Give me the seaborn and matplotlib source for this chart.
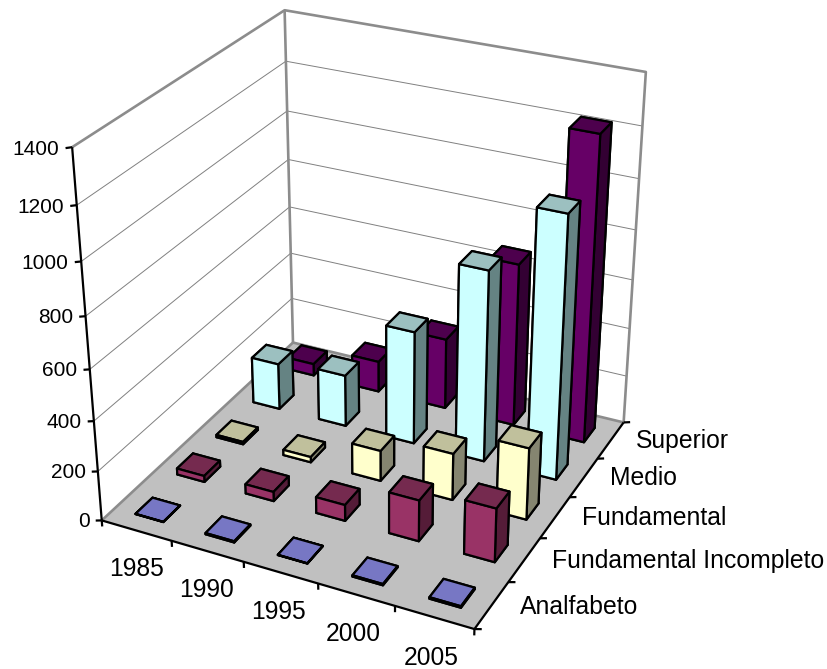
"""
3D bars by education level, Excel style
"""
import numpy as np
import matplotlib
matplotlib.use("Agg")
import matplotlib.pyplot as plt
from mpl_toolkits.mplot3d.art3d import Line3DCollection
import seaborn as sns

years = ["1985", "1990", "1995", "2000", "2005"]
levels = ["Analfabeto", "Fundamental Incompleto", "Fundamental", "Medio", "Superior"]
z_ticks = [0, 200, 400, 600, 800, 1000, 1200, 1400]

analfabeto = [1, 5, 1, 5, 6]
fund_incompleto = [25, 38, 65, 165, 215]
fundamental = [10, 22, 125, 190, 290]
medio = [193, 215, 465, 775, 1050]
superior = [50, 130, 295, 670, 1230]
series = [analfabeto, fund_incompleto, fundamental, medio, superior]

# front, top, right face colours per series
palette = sns.color_palette(["#9999FF", "#993366", "#FFFFCC", "#CCFFFF", "#660066"])
top_colors = ["#7777C4", "#752A4F", "#C0C09C", "#9CC0C0", "#4D004D"]
side_colors = ["#4D4D80", "#551C38", "#858570", "#658383", "#330033"]

W, H = 827, 669
zmax = z_ticks[-1]
nx, ny = len(years), len(levels)

# where the corners of the chart box sit in the picture (camera fit)
box_pts = np.array([[0, 0, 0], [nx, 0, 0], [nx, ny, 0], [0, ny, 0],
                    [0, 0, zmax], [0, ny, zmax], [nx, ny, zmax]], dtype=float)
pix_pts = np.array([[100.7, 520], [475, 629], [623, 422.7], [294, 342.7],
                    [72.7, 147.7], [284, 10], [646, 71.7]], dtype=float)
pix_pts[:, 1] = H - pix_pts[:, 1]

A, b = [], []
for (x, y, z), (u, v) in zip(box_pts, pix_pts):
    A.append([x, y, z, 1, 0, 0, 0, 0, -u * x, -u * y, -u * z])
    A.append([0, 0, 0, 0, x, y, z, 1, -v * x, -v * y, -v * z])
    b += [u, v]
p = np.linalg.lstsq(np.array(A), np.array(b), rcond=None)[0]
M = np.array([[p[0], p[1], p[2], p[3]],
              [p[4], p[5], p[6], p[7]],
              [0, 0, 0, -1],
              [p[8], p[9], p[10], 1]])

sns.set_theme(style="white")
plt.rcParams["font.family"] = ["Liberation Sans", "DejaVu Sans"]

fig = plt.figure(figsize=(W / 100, H / 100), dpi=100)
ax = fig.add_axes([0, 0, 1, 1], projection="3d")
ax.set_axis_off()
ax.computed_zorder = False
ax.get_proj = lambda: M
ax.apply_aspect = lambda position=None: None
ax.viewLim.intervalx = (0, W)
ax.viewLim.intervaly = (0, H)


def add_lines(segments, color, lw, zorder):
    ax.add_collection3d(Line3DCollection(segments, colors=color, linewidths=lw, zorder=zorder), autolim=False)


def label(x, y, z, s, **kw):
    # figure text at the projected spot of a 3D point
    q = M @ np.array([x, y, z, 1.0])
    fig.text(q[0] / q[3] / W, q[1] / q[3] / H, s, color="black", **kw)


# floor
fx, fy = np.meshgrid([0, nx], [0, ny])
ax.plot_surface(fx, fy, np.zeros_like(fx), color="#C0C0C0", shade=False, linewidth=0, zorder=1)

# walls
grid = []
for t in z_ticks[1:-1]:
    grid.append([(0, 0, t), (0, ny, t), (nx, ny, t)])
add_lines(grid, "#808080", 0.7, 2)
add_lines([[(0, 0, zmax), (0, ny, zmax), (nx, ny, zmax), (nx, ny, 0)],
           [(0, ny, 0), (0, ny, zmax)],
           [(0, 0, 0), (0, ny, 0), (nx, ny, 0)]], "#8C8C8C", 1.9, 3)

# bars, back row first
width = 0.40
zo = 10
for j in range(ny - 1, -1, -1):
    for i in range(nx):
        faces = [top_colors[j], top_colors[j], palette[j], palette[j], side_colors[j], side_colors[j]]
        ax.bar3d(i + 0.5 - width / 2, j + 0.5 - width / 2, 0, width, width, series[j][i],
                 color=faces, edgecolor="black", linewidth=1.6, shade=False, zorder=zo)
        zo += 1

# axes lines and ticks
axis_lines = [[(0, 0, 0), (0, 0, zmax)], [(0, 0, 0), (nx, 0, 0), (nx, ny, 0)]]
for t in z_ticks:
    axis_lines.append([(0, 0, t), (-0.09, 0, t - 8)])
    label(-0.18, 0, t - 18, str(t), ha="right", va="center", fontsize=15)
for i in range(nx + 1):
    axis_lines.append([(i, 0, 0), (i, 0, -25)])
for i, lab in enumerate(years):
    label(i + 0.46, 0, -165, lab, ha="center", va="center", fontsize=17.7)
for j in range(ny + 1):
    axis_lines.append([(nx, j, 0), (nx + 0.09, j, 8)])
for j, lab in enumerate(levels):
    label(nx + 0.35, j + 0.5, 25, lab, ha="left", va="center", fontsize=17.8)
add_lines(axis_lines, "black", 1.6, 100)

fig.savefig("out.png", dpi=100)
